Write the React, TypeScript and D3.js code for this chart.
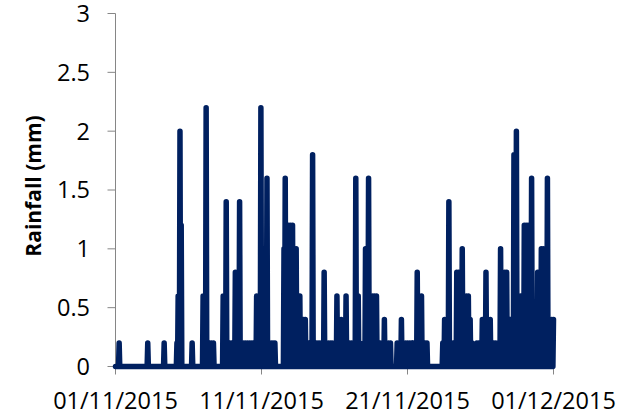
import React from "react";
import * as d3 from "d3";

// Hourly rainfall readings (hour since 01/11/2015 00:00, mm); dry hours are 0
const rainReadings: [number, number][] = [
  [6, 0.2], [53, 0.2], [80, 0.2],
  [101, 0.2], [103, 0.6], [106, 2.0], [108, 1.2],
  [126, 0.2],
  [144, 0.6], [149, 2.2], [155, 0.2], [158, 0.2], [161, 0.2],
  [177, 0.6], [182, 1.4], [185, 0.2], [188, 0.2], [191, 0.2], [194, 0.2],
  [197, 0.8], [200, 0.8], [204, 1.4], [208, 0.2], [211, 0.2], [214, 0.2], [217, 0.2], [220, 0.2], [223, 0.2], [226, 0.2], [229, 0.2],
  [232, 0.6], [235, 0.6], [239, 2.2], [244, 1.0], [249, 1.6], [253, 0.2], [256, 0.2], [259, 0.2], [262, 0.2],
  [277, 1.0], [279, 1.6], [282, 0.2], [285, 1.2], [288, 1.2], [291, 1.2], [294, 1.0], [297, 1.0], [300, 0.6], [303, 0.6],
  [306, 0.4], [309, 0.4], [312, 0.4], [315, 0.2], [318, 0.2], [321, 0.2],
  [324, 1.8], [327, 0.2], [330, 0.2], [333, 0.2], [336, 0.2], [339, 0.2], [343, 0.8], [347, 0.2], [350, 0.2], [353, 0.2], [356, 0.2], [359, 0.2],
  [364, 0.6], [368, 0.4], [371, 0.4], [375, 0.2], [379, 0.6], [382, 0.2], [385, 0.2], [388, 0.2], [391, 0.2], [395, 1.6], [399, 0.6], [402, 0.2],
  [411, 1.0], [416, 1.6], [420, 0.6], [423, 0.6], [426, 0.6], [429, 0.6], [432, 0.2], [435, 0.2], [438, 0.2], [442, 0.4], [446, 0.2], [449, 0.2], [452, 0.2],
  [463, 0.2], [466, 0.2], [470, 0.4], [474, 0.2], [477, 0.2], [480, 0.2], [483, 0.2], [486, 0.2], [490, 0.2], [493, 0.2],
  [496, 0.8], [500, 0.6], [503, 0.6], [506, 0.2], [509, 0.2], [512, 0.2],
  [538, 0.2], [541, 0.4], [544, 0.4], [548, 1.4], [552, 0.2], [555, 0.2], [558, 0.2], [561, 0.8], [564, 0.8], [567, 0.8], [570, 1.0],
  [574, 0.6], [577, 0.6], [580, 0.6], [583, 0.4], [586, 0.2],
  [594, 0.2], [597, 0.2], [600, 0.2], [603, 0.4], [606, 0.4], [609, 0.8], [613, 0.4], [616, 0.4], [619, 0.2], [622, 0.2], [625, 0.2], [628, 0.2],
  [633, 1.0], [637, 0.8], [640, 0.8], [643, 0.8], [646, 0.4], [649, 0.4], [652, 0.4], [655, 1.8], [659, 2.0], [663, 0.6], [666, 0.6], [669, 0.6],
  [672, 1.2], [675, 1.2], [678, 1.2], [681, 1.2], [684, 1.6], [688, 0.2], [691, 0.2], [694, 0.8], [697, 0.8], [700, 1.0], [703, 1.0], [706, 1.0],
  [710, 1.6], [714, 0.4], [717, 0.4], [720, 0.4],
];

const startDate = new Date(Date.UTC(2015, 10, 1));
const endDate = new Date(Date.UTC(2015, 11, 1));
const totalHours = 720;
const xTickDates = [
  new Date(Date.UTC(2015, 10, 1)),
  new Date(Date.UTC(2015, 10, 11)),
  new Date(Date.UTC(2015, 10, 21)),
  new Date(Date.UTC(2015, 11, 1)),
];
const yTicks = [0, 0.5, 1, 1.5, 2, 2.5, 3];
const yTitle = "Rainfall (mm)";

const W = 622;
const H = 418;
const left = 115.5;
const right = 553.5;
const top = 13.5;
const bottom = 366.5;
const FONT = "'Open Sans', 'Noto Sans', sans-serif";
const NAVY = "#002060";
const GRAY = "#868686";

export default function App() {
  const x = d3.scaleUtc().domain([startDate, endDate]).range([left, right]);
  const y = d3.scaleLinear().domain([0, 3]).range([bottom, top]);

  const byHour = new Map<number, number>(rainReadings);
  const series = d3.range(0, totalHours + 1).map((h) => ({
    date: d3.utcHour.offset(startDate, h),
    mm: byHour.get(h) ?? 0,
  }));

  const line = d3
    .line<{ date: Date; mm: number }>()
    .x((d) => x(d.date))
    .y((d) => y(d.mm));

  const fmt = d3.utcFormat("%d/%m/%Y");

  return (
    <svg
      width={W}
      height={H}
      style={{ position: "absolute", left: 0, top: 0, display: "block", background: "#fff" }}
    >
      {/* y axis */}
      <line x1={left} x2={left} y1={top} y2={bottom} stroke={GRAY} strokeWidth={1} />
      {yTicks.map((t) => (
        <g key={t}>
          <line x1={left - 8} x2={left} y1={y(t)} y2={y(t)} stroke={GRAY} strokeWidth={1} />
          <text
            x={90}
            y={y(t)}
            dy="0.36em"
            textAnchor="end"
            fontFamily={FONT}
            fontSize={23.5}
            fill="#000"
          >
            {String(t)}
          </text>
        </g>
      ))}
      {/* x axis */}
      <line x1={left} x2={right} y1={bottom} y2={bottom} stroke={GRAY} strokeWidth={1} />
      {xTickDates.map((d) => (
        <g key={d.toISOString()}>
          <line x1={x(d)} x2={x(d)} y1={bottom} y2={bottom + 8} stroke={GRAY} strokeWidth={1} />
          <text
            x={x(d)}
            y={409}
            textAnchor="middle"
            fontFamily={FONT}
            fontSize={23.5}
            fill="#000"
          >
            {fmt(d)}
          </text>
        </g>
      ))}
      <text
        transform={`translate(41, 186) rotate(-90)`}
        textAnchor="middle"
        fontFamily={FONT}
        fontSize={21}
        fontWeight="bold"
        fill="#000"
      >
        {yTitle}
      </text>
      {/* series */}
      <path
        d={line(series) ?? ""}
        fill="none"
        stroke={NAVY}
        strokeWidth={5.5}
        strokeLinejoin="round"
        strokeLinecap="round"
      />
    </svg>
  );
}
